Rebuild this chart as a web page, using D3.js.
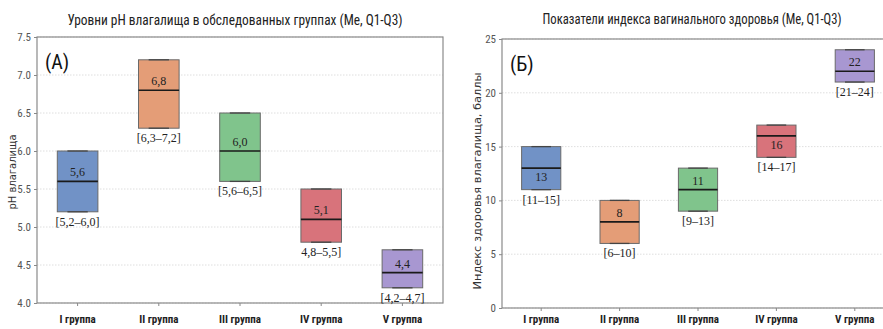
<!DOCTYPE html>
<html>
<head>
<meta charset="utf-8">
<script src="https://cdn.jsdelivr.net/npm/d3@7"></script>
<style>
  body { margin: 0; background: #fff; }
  svg { display: block; }
</style>
</head>
<body>
<svg id="chart" width="883" height="329"></svg>
<script>
// data
var groups = ["I группа", "II группа", "III группа", "IV группа", "V группа"];

var phQ1  = [5.2, 6.3, 5.6, 4.8, 4.2];
var phMed = [5.6, 6.8, 6.0, 5.1, 4.4];
var phQ3  = [6.0, 7.2, 6.5, 5.5, 4.7];
var phMedLabels   = ["5,6", "6,8", "6,0", "5,1", "4,4"];
var phRangeLabels = ["[5,2–6,0]", "[6,3–7,2]", "[5,6–6,5]", "4,8–5,5]", "[4,2–4,7]"];
var phTicks = [4.0, 4.5, 5.0, 5.5, 6.0, 6.5, 7.0, 7.5];

var vhiQ1  = [11, 6, 9, 14, 21];
var vhiMed = [13, 8, 11, 16, 22];
var vhiQ3  = [15, 10, 13, 17, 24];
var vhiMedLabels   = ["13", "8", "11", "16", "22"];
var vhiRangeLabels = ["[11–15]", "[6–10]", "[9–13]", "[14–17]", "[21–24]"];
var vhiTicks = [0, 5, 10, 15, 20, 25];

var colors = ["#7192c6", "#e49d77", "#80c48c", "#d8737b", "#a897d1"];

var svg = d3.select("#chart");
var condensed = "'Liberation Sans Narrow', 'Roboto Condensed', Roboto, sans-serif";

function drawPanel(cfg) {
  var g = svg.append("g");

  var x = d3.scaleBand().domain(groups).range([cfg.left, cfg.right]);
  var y = d3.scaleLinear().domain(cfg.domain).range([cfg.bottom, cfg.top]);
  var bw = x.bandwidth() * 0.5;

  // grid
  g.selectAll(".grid").data(cfg.ticks).enter().append("line")
    .attr("x1", cfg.left).attr("x2", cfg.right)
    .attr("y1", function(d) { return y(d); })
    .attr("y2", function(d) { return y(d); })
    .style("stroke", "#d6d6d6")
    .style("stroke-dasharray", "1.5,1.5")
    .style("stroke-width", 0.8);

  // frame
  g.append("rect")
    .attr("x", cfg.left).attr("y", cfg.top)
    .attr("width", cfg.right - cfg.left).attr("height", cfg.bottom - cfg.top)
    .style("fill", "none").style("stroke", "#8a8a8a").style("stroke-width", 1.2);

  // y axis
  var yAxis = g.append("g")
    .attr("transform", "translate(" + cfg.left + ",0)")
    .call(d3.axisLeft(y).tickValues(cfg.ticks).tickFormat(cfg.fmt).tickSize(3).tickPadding(3));
  yAxis.select(".domain").remove();
  yAxis.selectAll("line").style("stroke", "#888");
  yAxis.selectAll("text").style("fill", "#555").style("font-size", "11px").style("font-family", condensed);

  // x axis
  var xAxis = g.append("g")
    .attr("transform", "translate(0," + cfg.bottom + ")")
    .call(d3.axisBottom(x).tickSize(3).tickPadding(cfg.xpad));
  xAxis.select(".domain").remove();
  xAxis.selectAll("line").style("stroke", "#888");
  xAxis.selectAll("text")
    .style("fill", "#222").style("font-size", "11px").style("font-weight", "bold")
    .style("font-family", condensed);

  // boxes
  var idx = d3.range(groups.length);
  var box = g.selectAll(".box").data(idx).enter().append("g");
  box.append("rect")
    .attr("x", function(i) { return x(groups[i]) + (x.bandwidth() - bw) / 2; })
    .attr("y", function(i) { return y(cfg.q3[i]); })
    .attr("width", bw)
    .attr("height", function(i) { return y(cfg.q1[i]) - y(cfg.q3[i]); })
    .style("fill", function(i) { return colors[i]; })
    .style("stroke", "#6a6a6a").style("stroke-width", 1);

  // caps
  [cfg.q1, cfg.q3].forEach(function(arr) {
    box.append("line")
      .attr("x1", function(i) { return x(groups[i]) + x.bandwidth() / 2 - bw / 4; })
      .attr("x2", function(i) { return x(groups[i]) + x.bandwidth() / 2 + bw / 4; })
      .attr("y1", function(i) { return y(arr[i]); })
      .attr("y2", function(i) { return y(arr[i]); })
      .style("stroke", "#444").style("stroke-width", 1.3);
  });

  // median
  box.append("line")
    .attr("x1", function(i) { return x(groups[i]) + (x.bandwidth() - bw) / 2; })
    .attr("x2", function(i) { return x(groups[i]) + (x.bandwidth() + bw) / 2; })
    .attr("y1", function(i) { return y(cfg.med[i]); })
    .attr("y2", function(i) { return y(cfg.med[i]); })
    .style("stroke", "#1a1a1a").style("stroke-width", 1.6);

  // median labels
  box.append("text")
    .attr("x", function(i) { return x(groups[i]) + x.bandwidth() / 2; })
    .attr("y", function(i) { return y(cfg.med[i]) + (cfg.side[i] === "low" ? 13 : -5); })
    .attr("text-anchor", "middle")
    .style("font-family", "'Liberation Serif', serif").style("font-size", "12px").style("fill", "#222")
    .text(function(i) { return cfg.medLabels[i]; });

  // range labels
  box.append("text")
    .attr("x", function(i) { return x(groups[i]) + x.bandwidth() / 2; })
    .attr("y", function(i) { return y(cfg.q1[i]) + 14; })
    .attr("text-anchor", "middle")
    .style("font-family", "'Liberation Serif', serif").style("font-size", "12px").style("fill", "#222")
    .text(function(i) { return cfg.rangeLabels[i]; });

  // title
  g.append("text")
    .attr("x", cfg.titleX).attr("y", cfg.titleY)
    .attr("text-anchor", "middle")
    .attr("textLength", cfg.titleW).attr("lengthAdjust", "spacingAndGlyphs")
    .style("font-family", condensed).style("font-size", "14px").style("fill", "#222")
    .text(cfg.title);

  // panel letter
  g.append("text")
    .attr("x", cfg.left + 8).attr("y", cfg.top + 32)
    .style("font-family", condensed).style("font-size", "20px").style("fill", "#111")
    .text(cfg.letter);

  // y label
  g.append("text")
    .attr("transform", "translate(" + cfg.ylabX + "," + cfg.ylabY + ") rotate(-90)")
    .attr("text-anchor", "middle")
    .attr("textLength", cfg.ylabW).attr("lengthAdjust", "spacingAndGlyphs")
    .style("font-family", "'DejaVu Sans', sans-serif").style("font-size", "10.5px").style("fill", "#333")
    .text(cfg.ylab);
}

drawPanel({
  left: 37, right: 443, top: 37, bottom: 303,
  domain: [4.0, 7.5], ticks: phTicks, fmt: d3.format(".1f"), xpad: 9,
  q1: phQ1, med: phMed, q3: phQ3,
  medLabels: phMedLabels, rangeLabels: phRangeLabels,
  side: ["high", "high", "high", "high", "high"],
  title: "Уровни pH влагалища в обследованных группах (Me, Q1-Q3)",
  titleX: 235, titleY: 25, titleW: 335,
  letter: "(A)",
  ylab: "pH влагалища", ylabX: 16, ylabY: 172, ylabW: 75
});

drawPanel({
  left: 502, right: 894, top: 39, bottom: 308,
  domain: [0, 25], ticks: vhiTicks, fmt: d3.format("d"), xpad: 4,
  q1: vhiQ1, med: vhiMed, q3: vhiQ3,
  medLabels: vhiMedLabels, rangeLabels: vhiRangeLabels,
  side: ["low", "high", "high", "low", "high"],
  title: "Показатели индекса вагинального здоровья (Me, Q1-Q3)",
  titleX: 692, titleY: 24, titleW: 299,
  letter: "(Б)",
  ylab: "Индекс здоровья влагалища, баллы", ylabX: 481, ylabY: 181, ylabW: 217
});
</script>
</body>
</html>
